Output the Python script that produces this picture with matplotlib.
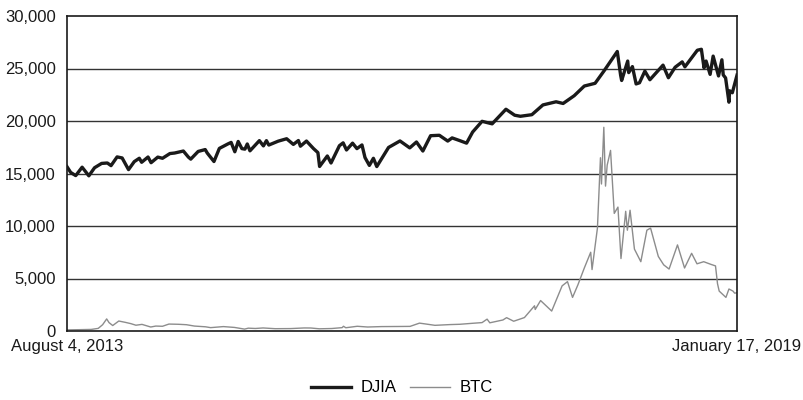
import pandas as pd
import matplotlib
matplotlib.use("Agg")
import matplotlib.pyplot as plt
from matplotlib.ticker import FuncFormatter

plt.rcParams['font.family'] = ['Liberation Sans', 'DejaVu Sans']
plt.rcParams['font.size'] = 12

### DJIA closing level
djia_dates = ["2013-08-04", "2013-08-15", "2013-08-30", "2013-09-18", "2013-10-08", "2013-10-25",
              "2013-11-15", "2013-12-02", "2013-12-13", "2013-12-31", "2014-01-15", "2014-02-03",
              "2014-02-20", "2014-03-07", "2014-03-14", "2014-04-02", "2014-04-11", "2014-05-01",
              "2014-05-15", "2014-06-06", "2014-06-20", "2014-07-16", "2014-07-31", "2014-08-07",
              "2014-08-29", "2014-09-19", "2014-09-25", "2014-10-15", "2014-10-31", "2014-11-25",
              "2014-12-05", "2014-12-16", "2014-12-26", "2015-01-06", "2015-01-15", "2015-01-22",
              "2015-01-30", "2015-02-27", "2015-03-11", "2015-03-20", "2015-03-27", "2015-04-24",
              "2015-05-19", "2015-06-08", "2015-06-23", "2015-06-29", "2015-07-17", "2015-08-07",
              "2015-08-20", "2015-08-25", "2015-09-17", "2015-09-28", "2015-10-23", "2015-11-03",
              "2015-11-13", "2015-12-01", "2015-12-14", "2015-12-29", "2016-01-07", "2016-01-20",
              "2016-02-01", "2016-02-11", "2016-03-17", "2016-04-20", "2016-05-19", "2016-06-08",
              "2016-06-27", "2016-07-20", "2016-08-15", "2016-09-09", "2016-09-22", "2016-10-14",
              "2016-11-04", "2016-11-22", "2016-12-20", "2017-01-19", "2017-03-01", "2017-03-27",
              "2017-04-13", "2017-05-17", "2017-06-19", "2017-07-28", "2017-08-18", "2017-09-20",
              "2017-10-20", "2017-11-21", "2017-12-18", "2018-01-26", "2018-02-05", "2018-02-08",
              "2018-02-26", "2018-03-01", "2018-03-12", "2018-03-23", "2018-04-02", "2018-04-18",
              "2018-05-03", "2018-06-11", "2018-06-27", "2018-07-17", "2018-08-07", "2018-08-15",
              "2018-09-21", "2018-10-03", "2018-10-11", "2018-10-17", "2018-10-29", "2018-11-07",
              "2018-11-23", "2018-12-03", "2018-12-07", "2018-12-14", "2018-12-24", "2018-12-26",
              "2019-01-03", "2019-01-17"]
djia_values = [15650, 15100, 14800, 15600, 14780, 15550,
               15960, 16000, 15750, 16580, 16480, 15370,
               16130, 16450, 16070, 16570, 16030, 16560,
               16450, 16900, 16950, 17140, 16560, 16370,
               17100, 17280, 16950, 16140, 17390, 17810,
               17960, 17070, 18050, 17370, 17320, 17810,
               17160, 18130, 17630, 18130, 17710, 18080,
               18310, 17770, 18140, 17600, 18090, 17370,
               16990, 15670, 16670, 16000, 17650, 17920,
               17240, 17890, 17370, 17720, 16520, 15770,
               16450, 15660, 17480, 18100, 17440, 18000,
               17140, 18600, 18640, 18090, 18390, 18140,
               17890, 18950, 19970, 19730, 21120, 20550,
               20450, 20600, 21530, 21830, 21670, 22410,
               23330, 23590, 24790, 26620, 24350, 23860,
               25710, 24610, 25180, 23530, 23640, 24750,
               23930, 25320, 24120, 25120, 25630, 25160,
               26740, 26830, 25050, 25710, 24440, 26180,
               24290, 25830, 24390, 24100, 21790, 22880,
               22690, 24370]

### BTC price in USD
btc_dates = ["2013-08-04", "2013-09-15", "2013-10-15", "2013-11-05", "2013-11-18", "2013-11-30",
             "2013-12-07", "2013-12-18", "2014-01-05", "2014-01-25", "2014-02-10", "2014-02-25",
             "2014-03-15", "2014-04-10", "2014-04-25", "2014-05-15", "2014-06-03", "2014-07-01",
             "2014-07-25", "2014-08-18", "2014-09-20", "2014-10-05", "2014-11-12", "2014-12-15",
             "2015-01-14", "2015-01-25", "2015-02-15", "2015-03-10", "2015-04-15", "2015-05-31",
             "2015-07-10", "2015-07-30", "2015-08-24", "2015-09-30", "2015-10-31", "2015-11-04",
             "2015-11-11", "2015-12-15", "2016-01-15", "2016-02-25", "2016-04-15", "2016-05-20",
             "2016-06-17", "2016-07-05", "2016-08-02", "2016-09-15", "2016-10-15", "2016-11-20",
             "2016-12-20", "2017-01-04", "2017-01-12", "2017-02-20", "2017-03-03", "2017-03-24",
             "2017-04-25", "2017-05-25", "2017-05-27", "2017-06-12", "2017-07-15", "2017-08-15",
             "2017-08-31", "2017-09-15", "2017-10-01", "2017-10-20", "2017-11-08", "2017-11-12",
             "2017-11-28", "2017-12-07", "2017-12-10", "2017-12-17", "2017-12-22", "2017-12-27",
             "2018-01-06", "2018-01-17", "2018-01-28", "2018-02-06", "2018-02-20", "2018-02-25",
             "2018-03-05", "2018-03-18", "2018-04-06", "2018-04-24", "2018-05-05", "2018-05-28",
             "2018-06-13", "2018-06-29", "2018-07-24", "2018-08-14", "2018-09-04", "2018-09-20",
             "2018-10-10", "2018-10-31", "2018-11-14", "2018-11-20", "2018-11-25", "2018-12-15",
             "2018-12-24", "2019-01-05", "2019-01-10", "2019-01-17"]
btc_values = [105, 130, 150, 250, 600, 1150,
              800, 520, 950, 820, 700, 550,
              630, 380, 470, 450, 660, 640,
              600, 470, 400, 320, 420, 340,
              180, 270, 240, 290, 220, 230,
              290, 285, 210, 236, 320, 450,
              310, 450, 380, 420, 430, 440,
              750, 670, 540, 610, 640, 730,
              800, 1130, 780, 1050, 1270, 930,
              1280, 2400, 2050, 2900, 1900, 4300,
              4700, 3200, 4400, 6000, 7500, 5850,
              9800, 16500, 14000, 19400, 13800, 15800,
              17200, 11200, 11800, 6900, 11400, 9600,
              11500, 7800, 6600, 9600, 9800, 7100,
              6300, 5900, 8200, 6000, 7400, 6400,
              6600, 6350, 6200, 4500, 3800, 3200,
              4000, 3800, 3600, 3650]

start_date = pd.Timestamp("2013-08-04")
end_date = pd.Timestamp("2019-01-17")
x_labels = ["August 4, 2013", "January 17, 2019"]
y_ticks = [0, 5000, 10000, 15000, 20000, 25000, 30000]

fig = plt.figure(figsize=(8.04, 4.0), dpi=100)
ax = fig.add_axes([0.0833, 0.1725, 0.8334, 0.7875])

for y in y_ticks[1:-1]:
    ax.axhline(y, color="#333333", linewidth=1.0, zorder=1)

ax.plot(pd.to_datetime(djia_dates), djia_values, color="#1a1a1a", linewidth=2.4, label="DJIA", zorder=3)
ax.plot(pd.to_datetime(btc_dates), btc_values, color="#8c8c8c", linewidth=1.0, label="BTC", zorder=2)

ax.set_xlim(start_date, end_date)
ax.set_ylim(0, 30000)
ax.set_yticks(y_ticks)
ax.yaxis.set_major_formatter(FuncFormatter(lambda v, p: "{:,.0f}".format(v)))
ax.set_xticks([start_date, end_date])
ax.set_xticklabels(x_labels)
ax.tick_params(axis="both", length=0, labelsize=12, colors="#1a1a1a")
ax.tick_params(axis="y", pad=8)
ax.tick_params(axis="x", pad=6)

for s in ax.spines.values():
    s.set_color("#1a1a1a")
    s.set_linewidth(1.2)

fig.legend(loc="center", bbox_to_anchor=(0.5, 0.03), ncol=2, frameon=False,
           handlelength=2.4, handletextpad=0.6, columnspacing=0.8, fontsize=12)

fig.savefig("out.png", dpi=100)
